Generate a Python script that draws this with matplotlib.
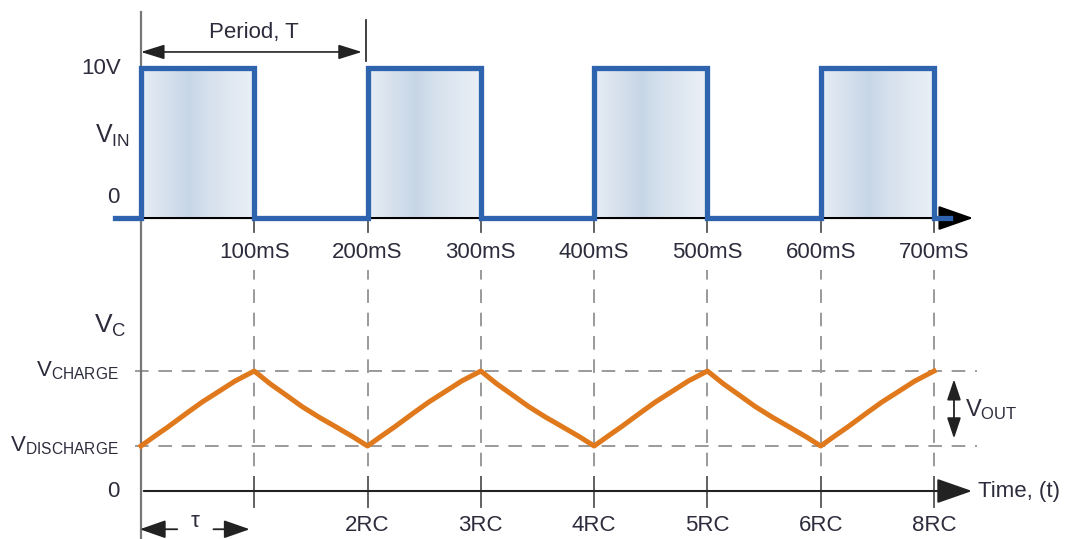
import numpy as np
import matplotlib
matplotlib.use("Agg")
import matplotlib.pyplot as plt
from matplotlib.colors import to_rgb

plt.rcParams['font.family'] = ['Liberation Sans', 'DejaVu Sans']
plt.rcParams['mathtext.fontset'] = 'custom'
plt.rcParams['mathtext.rm'] = 'Liberation Sans'

# === Data
pulse_starts = [0, 200, 400, 600]       # ms, V_IN high
pulse_width = 100                      # ms
v_high = 10                            # V
top_ticks = [100, 200, 300, 400, 500, 600, 700]
top_labels = ["100mS", "200mS", "300mS", "400mS", "500mS", "600mS", "700mS"]
bottom_ticks = [100, 200, 300, 400, 500, 600, 700]
bottom_labels = ["", "2RC", "3RC", "4RC", "5RC", "6RC", "8RC"]

v_charge = 8.0
v_discharge = 3.0

# capacitor voltage
vc_time = [0, 12, 24, 40, 54, 70, 83, 100,
           114, 128, 142, 157, 172, 187, 200,
           212, 224, 240, 254, 270, 283, 300,
           314, 328, 342, 357, 372, 387, 400,
           412, 424, 440, 454, 470, 483, 500,
           514, 528, 542, 557, 572, 587, 600,
           612, 624, 640, 654, 670, 683, 700]
vc_volts = [3.0, 3.65, 4.28, 5.17, 5.93, 6.7, 7.33, 8.0,
            7.15, 6.4, 5.64, 4.93, 4.28, 3.62, 3.0,
            3.65, 4.28, 5.17, 5.93, 6.7, 7.33, 8.0,
            7.15, 6.4, 5.64, 4.93, 4.28, 3.62, 3.0,
            3.65, 4.28, 5.17, 5.93, 6.7, 7.33, 8.0,
            7.15, 6.4, 5.64, 4.93, 4.28, 3.62, 3.0,
            3.65, 4.28, 5.17, 5.93, 6.7, 7.33, 8.0]

# === Styles
BLUE = "#2e63ad"
ORANGE = "#e0781c"
TXT = "#2c2c3c"
AX = "#555555"
DASH = "#9a9a9a"
FS = 16

fig = plt.figure(figsize=(10.7, 5.39), dpi=100)
xlim = (-124.4, 820)
ax1 = fig.add_axes([0, 0.499, 1, 0.501])
ax2 = fig.add_axes([0, 0, 1, 0.499])
for ax in (ax1, ax2):
    ax.set_axis_off()

# === Top: V_IN square wave
stops = [0.0, 0.15, 0.42, 0.6, 1.0]
cols = [to_rgb(c) for c in ["#e6edf5", "#dbe4ef", "#c7d6e6", "#d6e1ed", "#ebf0f7"]]
xs = np.linspace(0, 1, 60)
grad = np.stack([np.interp(xs, stops, [c[i] for c in cols]) for i in range(3)], axis=-1)
for t0 in pulse_starts:
    ax1.imshow(grad[np.newaxis, :, :], extent=(t0, t0 + pulse_width, 0, v_high),
               aspect='auto', zorder=1, interpolation='bilinear')

ax1.annotate("", xy=(737, 0), xytext=(0, 0),
             arrowprops=dict(arrowstyle="-|>,head_length=1.0,head_width=0.35",
                             mutation_scale=22, color="black", lw=1.5), zorder=2)

sig_t = [-23]
sig_v = [0]
for t0 in pulse_starts:
    sig_t += [t0, t0, t0 + pulse_width, t0 + pulse_width]
    sig_v += [0, v_high, v_high, 0]
sig_t.append(714)
sig_v.append(0)
ax1.plot(sig_t, sig_v, color=BLUE, lw=3.8, solid_joinstyle='miter', zorder=3)

for t in top_ticks:
    ax1.plot([t, t], [0, -0.95], color=AX, lw=1.3, zorder=2)
for t, lab in zip(top_ticks, top_labels):
    ax1.text(t, -2.3, lab, ha='center', va='center', fontsize=FS, color=TXT)

ax1.plot([0, 0], [13.75, -3.6], color="#777777", lw=1.6, zorder=2)
ax1.annotate("", xy=(0, 11.07), xytext=(195, 11.07),
             arrowprops=dict(arrowstyle="<|-|>,head_length=0.8,head_width=0.25",
                             mutation_scale=18, color="#222222", lw=1.2, shrinkA=0, shrinkB=0))
ax1.plot([198.6, 198.6], [13.2, 10.5], color="#333333", lw=1.3)
ax1.text(99.5, 12.4, "Period, T", ha='center', va='center', fontsize=FS, color=TXT)

ax1.text(-17.6, 10, "10V", ha='right', va='center', fontsize=FS, color=TXT)
ax1.text(-9.7, 5.5, r"$\mathregular{V_{IN}}$", ha='right', va='center', fontsize=18, color=TXT)
ax1.text(-18.5, 1.4, "0", ha='right', va='center', fontsize=FS, color=TXT)

ax1.set_xlim(*xlim)
ax1.set_ylim((218 - 270) / 15, 218 / 15)

# === Bottom: capacitor voltage
for lvl in (v_charge, v_discharge):
    ax2.plot([-5, 738], [lvl, lvl], color=DASH, lw=1.4, dashes=(7, 5), zorder=1)
for t in bottom_ticks:
    ax2.plot([t, t], [15, 0.95], color=DASH, lw=1.4, dashes=(7, 5), zorder=1)
    ax2.plot([t, t], [0.95, -1.05], color=AX, lw=1.3, zorder=2)

ax2.plot([0, 0], [15, -3.3], color="#777777", lw=1.6, zorder=2)
ax2.annotate("", xy=(736, 0), xytext=(0, 0),
             arrowprops=dict(arrowstyle="-|>,head_length=1.0,head_width=0.35",
                             mutation_scale=22, color="#222222", lw=1.5), zorder=2)
ax2.plot(vc_time, vc_volts, color=ORANGE, lw=3.6, solid_joinstyle='round', zorder=3)

for t, lab in zip(bottom_ticks, bottom_labels):
    ax2.text(t, -2.27, lab, ha='center', va='center', fontsize=FS, color=TXT)

ax2.text(47.7, -2.0, "τ", ha='center', va='center', fontsize=FS, color=TXT)
ax2.annotate("", xy=(-1, -2.55), xytext=(32, -2.55),
             arrowprops=dict(arrowstyle="-|>,head_length=1.0,head_width=0.35",
                             mutation_scale=16, color="#222222", lw=1.3, shrinkA=0, shrinkB=0))
ax2.annotate("", xy=(96, -2.55), xytext=(64, -2.55),
             arrowprops=dict(arrowstyle="-|>,head_length=1.0,head_width=0.35",
                             mutation_scale=16, color="#222222", lw=1.3, shrinkA=0, shrinkB=0))

ax2.text(-12.4, 11.0, r"$\mathregular{V_C}$", ha='right', va='center', fontsize=19, color=TXT)
ax2.text(-19.4, 8.0, r"$\mathregular{V_{CHARGE}}$", ha='right', va='center', fontsize=16, color=TXT)
ax2.text(-19.4, 3.0, r"$\mathregular{V_{DISCHARGE}}$", ha='right', va='center', fontsize=16, color=TXT)
ax2.text(-18.5, 0.0, "0", ha='right', va='center', fontsize=FS, color=TXT)
ax2.text(739, 0.0, "Time, (t)", ha='left', va='center', fontsize=FS, color=TXT)

ax2.annotate("", xy=(717.6, 7.45), xytext=(717.6, 3.5),
             arrowprops=dict(arrowstyle="<|-|>,head_length=0.9,head_width=0.3",
                             mutation_scale=14, color="#222222", lw=1.3, shrinkA=0, shrinkB=0))
ax2.text(727, 5.4, r"$\mathregular{V_{OUT}}$", ha='left', va='center', fontsize=17, color=TXT)

ax2.set_xlim(*xlim)
ax2.set_ylim((491 - 539) / 15, (491 - 270) / 15)

fig.savefig("out.png", dpi=100)
